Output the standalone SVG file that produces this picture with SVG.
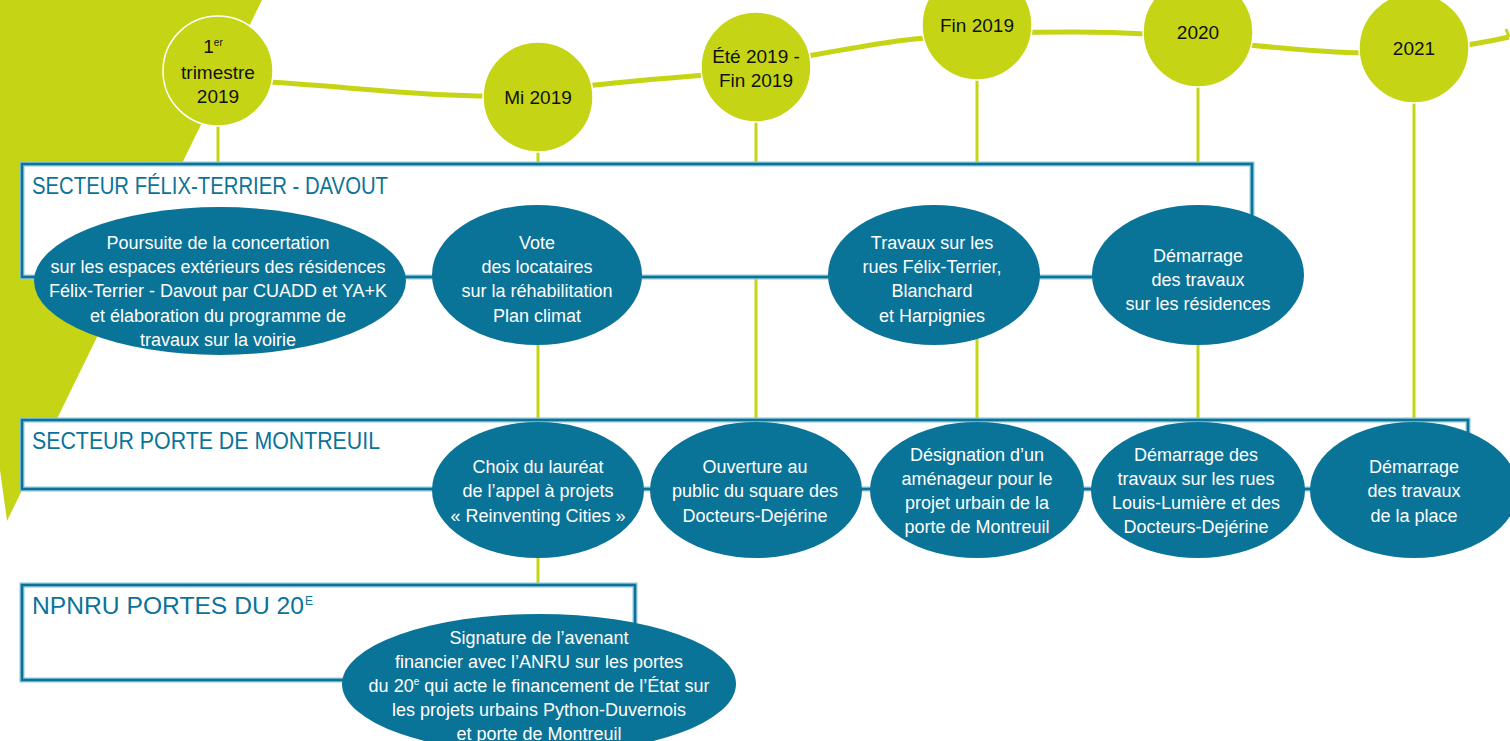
<svg xmlns="http://www.w3.org/2000/svg" width="1510" height="741" viewBox="0 0 1510 741">
<defs>
<style>
.bg{fill:#c5d515}
.tl{fill:none;stroke:#c5d515;stroke-width:5}
.vl{stroke:#c5d515;stroke-width:3}
.boxo{fill:#fff;stroke:#8fc6da;stroke-width:5}
.boxi{fill:none;stroke:#0a7398;stroke-width:2.5}
.circ{fill:#c5d515;stroke:#fff;stroke-width:1.5}
.ell{fill:#0a7398}
.ct{font-family:"Liberation Sans",Arial,sans-serif;font-size:19px;fill:#111;text-anchor:middle}
.et{font-family:"Liberation Sans",Arial,sans-serif;font-size:18px;fill:#fff;text-anchor:middle}
.bt{font-family:"Liberation Sans",Arial,sans-serif;font-size:23px;fill:#0a7398}
</style>
</defs>
<rect width="1510" height="741" fill="#fff"/>
<polygon class="bg" points="0,0 262,0 7,521 0,470"/>

<g id="connectors">
<path class="tl" d="M 270 82 C 350 87, 420 96, 490 96 L 595 85 C 640 80, 680 77, 705 75 C 760 66, 870 42, 925 38 C 980 32, 1090 30, 1145 34 C 1200 40, 1300 52, 1365 53 C 1420 52, 1470 46, 1509 37"/>
<path d="M 1506 29 L 1509 37" stroke="#c5d515" stroke-width="3" fill="none"/>
<line class="vl" x1="218" y1="120" x2="218" y2="166"/>
<line class="vl" x1="538" y1="140" x2="538" y2="587"/>
<line class="vl" x1="756" y1="110" x2="756" y2="166"/>
<line class="vl" x1="756" y1="277" x2="756" y2="422"/>
<line class="vl" x1="977" y1="70" x2="977" y2="166"/>
<line class="vl" x1="977" y1="277" x2="977" y2="422"/>
<line class="vl" x1="1198" y1="80" x2="1198" y2="166"/>
<line class="vl" x1="1198" y1="277" x2="1198" y2="422"/>
<line class="vl" x1="1414" y1="95" x2="1414" y2="422"/>
</g>

<g id="box-felix">
<rect class="boxo" x="22" y="164" width="1230" height="113"/>
<rect class="boxi" x="22" y="164" width="1230" height="113"/>
<text class="bt" x="32" y="194" textLength="356" lengthAdjust="spacingAndGlyphs">SECTEUR FÉLIX-TERRIER - DAVOUT</text>
</g>
<g id="box-montreuil">
<rect class="boxo" x="22" y="420" width="1446" height="69"/>
<rect class="boxi" x="22" y="420" width="1446" height="69"/>
<text class="bt" x="32" y="449" textLength="348" lengthAdjust="spacingAndGlyphs">SECTEUR PORTE DE MONTREUIL</text>
</g>
<g id="box-npnru">
<rect class="boxo" x="22" y="585" width="613" height="95"/>
<rect class="boxi" x="22" y="585" width="613" height="95"/>
<text class="bt" x="32" y="614" textLength="272" lengthAdjust="spacingAndGlyphs">NPNRU PORTES DU 20</text>
<text class="bt" x="305" y="605" style="font-size:12px">E</text>
</g>

<g id="c-t1-2019">
<circle class="circ" cx="218" cy="71" r="55"/>
<text class="ct" x="213" y="53">1<tspan style="font-size:10px" dy="-7">er</tspan></text>
<text class="ct" x="218" y="79">trimestre</text>
<text class="ct" x="218" y="103">2019</text>
</g>
<g id="c-mi-2019">
<circle class="circ" cx="538" cy="97" r="55"/>
<text class="ct" x="538" y="104">Mi 2019</text>
</g>
<g id="c-ete-2019">
<circle class="circ" cx="756" cy="67" r="55"/>
<text class="ct" x="756" y="63">Été 2019 -</text>
<text class="ct" x="756" y="87">Fin 2019</text>
</g>
<g id="c-fin-2019">
<circle class="circ" cx="977" cy="25" r="55"/>
<text class="ct" x="977" y="32">Fin 2019</text>
</g>
<g id="c-2020">
<circle class="circ" cx="1198" cy="32" r="55"/>
<text class="ct" x="1198" y="39">2020</text>
</g>
<g id="c-2021">
<circle class="circ" cx="1414" cy="48" r="55"/>
<text class="ct" x="1414" y="55">2021</text>
</g>

<g id="e-poursuite">
<ellipse class="ell" cx="220" cy="281" rx="186" ry="74"/>
<text class="et" x="218" y="249">Poursuite de la concertation</text>
<text class="et" x="218" y="273">sur les espaces extérieurs des résidences</text>
<text class="et" x="218" y="297">Félix-Terrier - Davout par CUADD et YA+K</text>
<text class="et" x="218" y="322">et élaboration du programme de</text>
<text class="et" x="218" y="346">travaux sur la voirie</text>
</g>
<g id="e-vote">
<ellipse class="ell" cx="537" cy="275" rx="105" ry="70"/>
<text class="et" x="537" y="249">Vote</text>
<text class="et" x="537" y="273">des locataires</text>
<text class="et" x="537" y="297">sur la réhabilitation</text>
<text class="et" x="537" y="322">Plan climat</text>
</g>
<g id="e-travaux">
<ellipse class="ell" cx="934" cy="275" rx="106" ry="70"/>
<text class="et" x="932" y="249">Travaux sur les</text>
<text class="et" x="932" y="273">rues Félix-Terrier,</text>
<text class="et" x="932" y="297">Blanchard</text>
<text class="et" x="932" y="322">et Harpignies</text>
</g>
<g id="e-demarrage-res">
<ellipse class="ell" cx="1198" cy="275" rx="106" ry="70"/>
<text class="et" x="1198" y="262">Démarrage</text>
<text class="et" x="1198" y="286">des travaux</text>
<text class="et" x="1198" y="310">sur les résidences</text>
</g>

<g id="e-choix">
<ellipse class="ell" cx="538" cy="490" rx="106" ry="68"/>
<text class="et" x="538" y="473">Choix du lauréat</text>
<text class="et" x="538" y="497">de l’appel à projets</text>
<text class="et" x="538" y="522">« Reinventing Cities »</text>
</g>
<g id="e-ouverture">
<ellipse class="ell" cx="756" cy="490" rx="106" ry="68"/>
<text class="et" x="755" y="473">Ouverture au</text>
<text class="et" x="755" y="497">public du square des</text>
<text class="et" x="755" y="522">Docteurs-Dejérine</text>
</g>
<g id="e-designation">
<ellipse class="ell" cx="977" cy="490" rx="107" ry="68"/>
<text class="et" x="977" y="461">Désignation d’un</text>
<text class="et" x="977" y="485">aménageur pour le</text>
<text class="et" x="977" y="509">projet urbain de la</text>
<text class="et" x="977" y="533">porte de Montreuil</text>
</g>
<g id="e-demarrage-rues">
<ellipse class="ell" cx="1198" cy="490" rx="107" ry="68"/>
<text class="et" x="1196" y="461">Démarrage des</text>
<text class="et" x="1196" y="485">travaux sur les rues</text>
<text class="et" x="1196" y="509">Louis-Lumière et des</text>
<text class="et" x="1196" y="533">Docteurs-Dejérine</text>
</g>
<g id="e-demarrage-place">
<ellipse class="ell" cx="1414" cy="490" rx="104" ry="68"/>
<text class="et" x="1414" y="473">Démarrage</text>
<text class="et" x="1414" y="497">des travaux</text>
<text class="et" x="1414" y="522">de la place</text>
</g>

<g id="e-signature">
<ellipse class="ell" cx="539" cy="684" rx="197" ry="70"/>
<text class="et" x="539" y="644">Signature de l’avenant</text>
<text class="et" x="539" y="668">financier avec l’ANRU sur les portes</text>
<text class="et" x="539" y="692">du 20<tspan style="font-size:10px" dy="-7">e</tspan><tspan dy="7"> qui acte le financement de l’État sur</tspan></text>
<text class="et" x="539" y="716">les projets urbains Python-Duvernois</text>
<text class="et" x="539" y="740">et porte de Montreuil</text>
</g>
</svg>
